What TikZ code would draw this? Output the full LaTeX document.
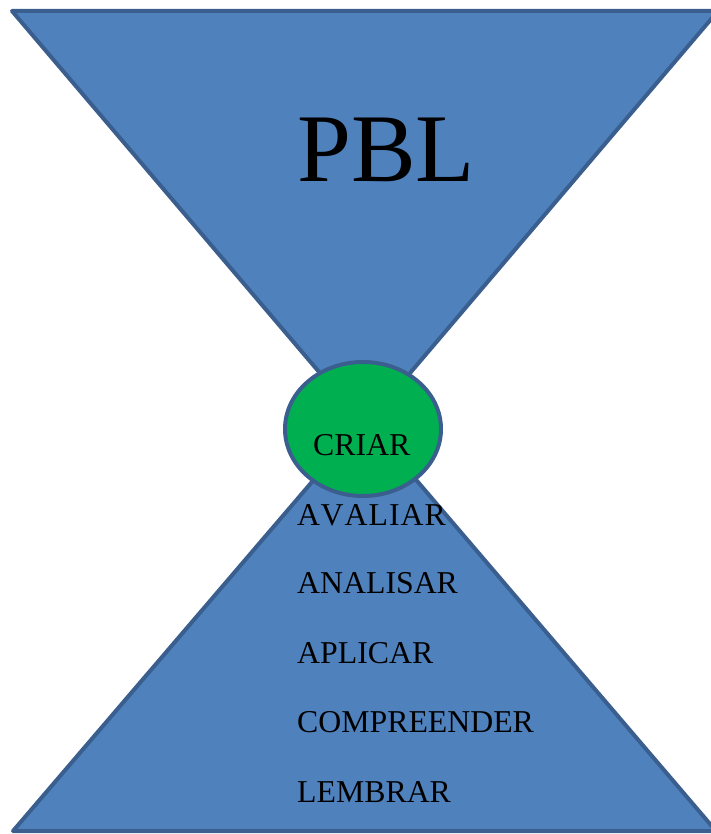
\documentclass[tikz,border=0pt]{standalone}
\usepackage{fontspec}
\setmainfont{Liberation Serif}
\usetikzlibrary{shapes.geometric}
\definecolor{fillblue}{HTML}{4F81BD}
\definecolor{edgeblue}{HTML}{3A5F8E}
\definecolor{greenfill}{HTML}{00B050}
\begin{document}
\begin{tikzpicture}[x=1pt,y=-1pt,
  tri/.style={fill=fillblue,draw=edgeblue,line width=4pt,line join=round},
  orb/.style={ellipse,fill=greenfill,draw=edgeblue,line width=4pt,inner sep=0pt,minimum width=156pt,minimum height=134pt},
  lbl/.style={anchor=base west,inner sep=0pt,font=\fontsize{31.8}{32}\selectfont},
  big/.style={anchor=base west,inner sep=0pt,font=\fontsize{97}{97}\selectfont}]
\useasboundingbox (0,0) rectangle (710,834);
% top triangle
\coordinate (tl) at (12,11);
\coordinate (tr) at (718,11);
\coordinate (ta) at (365,426);
\draw[tri] (tl) -- (tr) -- (ta) -- cycle;
% bottom triangle
\coordinate (bl) at (13,831);
\coordinate (br) at (716,831);
\coordinate (ba) at (365,420);
\draw[tri] (bl) -- (br) -- (ba) -- cycle;
% circle
\node[orb] (orb) at (363,429) {};
% texts
\node[big] (pbl) at (297,182) {PBL};
\node[lbl] (criar) at (313,455) {CRIAR};
\node[lbl] (avaliar) at (297,525) {A\kern0.5pt V\kern1pt A\kern1pt L\kern1pt I\kern1pt A\kern1pt R};
\node[lbl] (analisar) at (297,593) {ANALISAR};
\node[lbl] (aplicar) at (297,663) {APLICAR};
\node[lbl] (compreender) at (297,732) {COMPREENDER};
\node[lbl] (lembrar) at (297,802) {LEMBRAR};
\end{tikzpicture}
\end{document}
